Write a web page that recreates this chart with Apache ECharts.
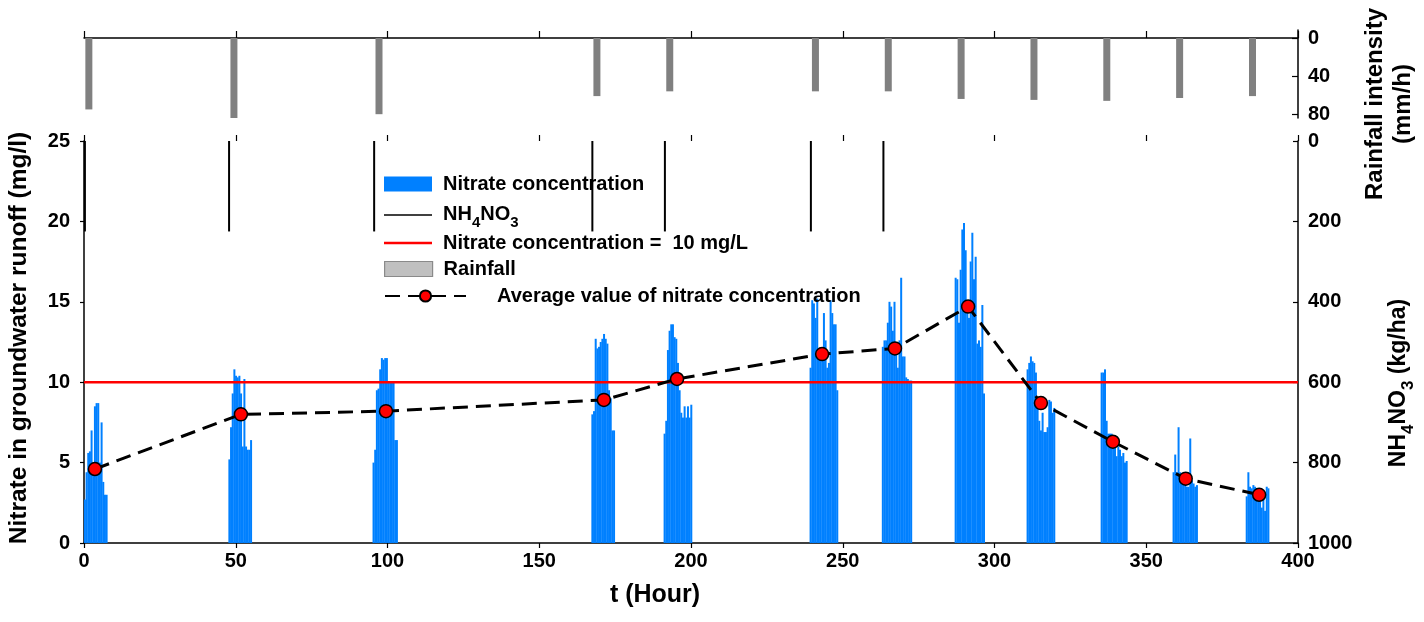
<!DOCTYPE html>
<html><head><meta charset="utf-8">
<script src="https://cdn.jsdelivr.net/npm/echarts@6/dist/echarts.min.js"></script>
<style>html,body{margin:0;padding:0;background:#fff}#c{width:1424px;height:622px}</style>
</head><body><div id="c"></div>
<script>
const FONT = '"Liberation Sans", Arial, sans-serif';

// ---- data ----
const rainTimes = [1.6, 49.4, 97.2, 169, 193, 241, 265, 289, 313, 337, 361, 385];
const rainIntensity = [75, 84, 80, 61, 56, 56, 56, 64, 65, 66, 63, 61];

const nh4no3Times = [0.3, 47.8, 95.6, 167.5, 191.4, 239.5, 263.4];
const nh4no3Amounts = [225, 225, 225, 225, 225, 225, 225];

const clusterStarts = [0.3, 47.9, 95.4, 167.5, 191.3, 239.4, 263.2, 287.2, 310.9, 335.3, 359.0, 383.1];
const clusterStep = 0.55;
const cluster1 = [2.7, 4.4, 5.6, 5.7, 7.0, 4.5, 8.5, 8.7, 8.7, 5.0, 7.5, 3.8, 3.0, 3.0];
const cluster2 = [5.2, 7.2, 9.3, 10.8, 10.4, 10.3, 10.4, 9.3, 6.0, 10.2, 6.0, 5.8, 5.8, 6.4];
const cluster3 = [5.0, 5.8, 9.5, 9.6, 10.8, 11.5, 11.4, 11.5, 11.5, 10.0, 10.0, 10.0, 10.0, 6.4, 6.4];
const cluster4 = [8.0, 8.2, 12.7, 12.1, 12.2, 12.5, 12.7, 13.0, 12.7, 12.4, 9.5, 9.0, 7.0, 7.0];
const cluster5 = [6.8, 7.6, 12.0, 13.2, 13.6, 13.6, 12.8, 12.7, 11.2, 9.5, 8.1, 7.8, 8.5, 7.8, 8.5, 7.8, 8.6];
const cluster6 = [10.9, 15.1, 14.9, 14.0, 15.2, 11.8, 11.4, 11.6, 14.3, 12.6, 10.9, 11.2, 15.1, 14.3, 13.6, 13.6, 9.5];
const cluster7 = [12.2, 12.6, 12.6, 13.7, 15.0, 14.7, 13.2, 15.0, 12.2, 10.9, 12.6, 16.5, 11.6, 11.6, 10.3, 10.2, 10.1, 10.1];
const cluster8 = [16.5, 16.4, 13.7, 17.0, 19.5, 19.9, 18.2, 14.7, 14.0, 17.5, 19.3, 16.4, 17.8, 12.4, 12.6, 12.2, 14.8, 9.3];
const cluster9 = [10.8, 11.2, 11.6, 11.3, 11.2, 10.6, 8.9, 7.6, 7.0, 8.1, 6.9, 6.9, 7.2, 8.9, 8.8, 8.1, 8.4];
const cluster10 = [10.6, 10.6, 10.8, 7.6, 6.8, 6.8, 6.8, 6.4, 6.3, 5.4, 6.0, 5.8, 5.4, 5.6, 5.0, 5.1];
const cluster11 = [4.4, 5.5, 4.4, 7.2, 4.4, 4.0, 3.9, 3.7, 3.5, 3.5, 6.5, 3.9, 3.7, 3.5, 3.6];
const cluster12 = [2.9, 4.4, 3.5, 3.4, 3.6, 3.5, 3.4, 3.2, 3.2, 2.2, 2.7, 2.0, 3.5, 3.4];
const clusters = [cluster1, cluster2, cluster3, cluster4, cluster5, cluster6, cluster7, cluster8, cluster9, cluster10, cluster11, cluster12];

const avgTimes = [3.6, 51.7, 99.5, 171.3, 195.4, 243.2, 267.2, 291.3, 315.3, 339.0, 363.0, 387.2];
const avgValues = [4.6, 8.0, 8.2, 8.9, 10.2, 11.75, 12.1, 14.7, 8.7, 6.3, 4.0, 3.0];

const thresholdValue = 10;
const tMin = 0, tMax = 400;
const rainTickValues = [0, 40, 80];

// ---- build tables ----
const nitrateData = [];
clusters.forEach((vals, ci) => {
  vals.forEach((v, i) => nitrateData.push([+(clusterStarts[ci] + i * clusterStep).toFixed(3), v]));
});
const rainData = rainTimes.map((t, i) => [t, rainIntensity[i]]);
const nh4Data = nh4no3Times.map((t, i) => [t, nh4no3Amounts[i]]);
const avgData = avgTimes.map((t, i) => [t, avgValues[i]]);
const thresholdData = [[tMin, thresholdValue], [tMax, thresholdValue]];

const bold = { fontFamily: FONT, fontWeight: 'bold', color: '#000' };
const axisLine = { show: true, onZero: false, lineStyle: { color: '#000', width: 1.5 } };

const chart = echarts.init(document.getElementById('c'), null, { renderer: 'canvas' });

function legendAt(name, left, top, extra) {
  return Object.assign({
    data: [name], left: left, top: top, orient: 'horizontal', padding: 0,
    selectedMode: false, itemWidth: 48, itemHeight: 15,
    textStyle: Object.assign({ fontSize: 20, lineHeight: 22, padding: [0, 0, 0, 6] }, bold)
  }, extra || {});
}

chart.setOption({
  animation: false,
  backgroundColor: '#fff',
  grid: [
    { left: 84, width: 1214, top: 30, height: 88, containLabel: false, outerBoundsMode: 'none' },
    { left: 84, width: 1214, top: 141, height: 402, containLabel: false, outerBoundsMode: 'none' }
  ],
  xAxis: [
    { gridIndex: 0, type: 'value', min: tMin, max: tMax, interval: 50, position: 'top',
      axisLine: { show: true, onZero: true, lineStyle: { color: '#000', width: 1.5 } },
      axisTick: { show: true, length: 7, lineStyle: { color: '#000', width: 1.2 } },
      axisLabel: { show: false }, splitLine: { show: false } },
    { gridIndex: 1, type: 'value', min: tMin, max: tMax, interval: 50, position: 'bottom',
      axisLine: axisLine,
      axisTick: { show: true, length: 5, lineStyle: { color: '#000', width: 1.2 } },
      axisLabel: Object.assign({ fontSize: 20, margin: 8 }, bold),
      splitLine: { show: false },
      name: 't (Hour)', nameLocation: 'middle', nameGap: 40,
      nameTextStyle: Object.assign({ fontSize: 25, padding: [0, 72, 0, 0] }, bold) },
    { gridIndex: 1, type: 'value', min: tMin, max: tMax, interval: 50, position: 'top',
      axisLine: { show: false, onZero: false },
      axisTick: { show: true, length: 6, lineStyle: { color: '#000', width: 1.2 } },
      axisLabel: { show: false }, splitLine: { show: false } }
  ],
  yAxis: [
    { gridIndex: 0, type: 'value', position: 'right', inverse: true, min: -8.42, max: 84,
      axisLine: axisLine,
      axisTick: { show: true, inside: true, length: 6, customValues: rainTickValues, lineStyle: { color: '#000', width: 1.2 } },
      axisLabel: Object.assign({ fontSize: 20, margin: 10, customValues: rainTickValues }, bold),
      splitLine: { show: false } },
    { gridIndex: 1, type: 'value', position: 'left', min: 0, max: 25, interval: 5,
      axisLine: axisLine,
      axisTick: { show: true, length: 4, lineStyle: { color: '#000', width: 1.2 } },
      axisLabel: Object.assign({ fontSize: 20, margin: 14 }, bold),
      splitLine: { show: false },
      name: 'Nitrate in groundwater runoff (mg/l)', nameLocation: 'middle', nameGap: 52, nameRotate: 90,
      nameTextStyle: Object.assign({ fontSize: 24.5, padding: [0, 0, 0, 8] }, bold) },
    { gridIndex: 1, type: 'value', position: 'right', inverse: true, min: 0, max: 1000, interval: 200,
      axisLine: axisLine,
      axisTick: { show: true, inside: true, length: 5, lineStyle: { color: '#000', width: 1.2 } },
      axisLabel: Object.assign({ fontSize: 20, margin: 10, formatter: (v) => String(v) }, bold),
      splitLine: { show: false } }
  ],
  legend: [
    legendAt('Nitrate concentration', 384, 173, { icon: 'rect' }),
    legendAt('NH4NO3', 384, 204, { icon: 'rect', itemHeight: 1.3,
      formatter: () => '{a|NH}{s|4}{a|NO}{s|3}',
      textStyle: Object.assign({ fontSize: 20, padding: [0, 0, 0, 6],
        rich: {
          a: Object.assign({ fontSize: 20, lineHeight: 22, verticalAlign: 'top' }, bold),
          s: Object.assign({ fontSize: 15, lineHeight: 15, verticalAlign: 'top', padding: [11, 0, 0, 0] }, bold)
        } }, bold) }),
    legendAt('Nitrate concentration =  10 mg/L', 384, 232, { icon: 'rect', itemHeight: 2.5 }),
    legendAt('Rainfall', 384, 258, { icon: 'rect',
      data: [{ name: 'Rainfall', itemStyle: { color: '#c0c0c0', borderColor: '#8a8a8a', borderWidth: 1.2 } }] }),
    legendAt('Average value of nitrate concentration', 384, 285, { itemWidth: 81, itemHeight: 14,
      textStyle: Object.assign({ fontSize: 20, lineHeight: 22, padding: [0, 0, 0, 26] }, bold) })
  ],
  graphic: [
    { type: 'text', x: 1389, y: 104, rotation: Math.PI / 2,
      style: { text: 'Rainfall intensity\n(mm/h)', fill: '#000', font: 'bold 24px ' + FONT,
        align: 'center', verticalAlign: 'middle', lineHeight: 28 } },
    { type: 'text', x: 1400, y: 383, rotation: Math.PI / 2,
      style: { text: '{a|NH}{s|4}{a|NO}{s|3}{a| (kg/ha)}', fill: '#000',
        align: 'center', verticalAlign: 'middle',
        rich: {
          a: { fontFamily: FONT, fontWeight: 'bold', fontSize: 23, lineHeight: 25, verticalAlign: 'top', fill: '#000' },
          s: { fontFamily: FONT, fontWeight: 'bold', fontSize: 17, lineHeight: 17, verticalAlign: 'top', padding: [12, 0, 0, 0], fill: '#000' }
        } } }
  ],
  series: [
    { name: 'Rainfall', type: 'bar', xAxisIndex: 0, yAxisIndex: 0, data: rainData,
      barWidth: 7, clip: false, itemStyle: { color: '#808080' } },
    { name: 'Nitrate concentration', type: 'bar', xAxisIndex: 1, yAxisIndex: 1, data: nitrateData,
      barWidth: 2, itemStyle: { color: '#0080ff' }, z: 2 },
    { name: 'NH4NO3', type: 'bar', xAxisIndex: 2, yAxisIndex: 2, data: nh4Data,
      barWidth: 2, itemStyle: { color: '#000' }, z: 2 },
    { name: 'Nitrate concentration =  10 mg/L', type: 'line', xAxisIndex: 1, yAxisIndex: 1, data: thresholdData,
      symbol: 'none', lineStyle: { color: '#ff0000', width: 2.5 }, itemStyle: { color: '#ff0000' }, z: 3 },
    { name: 'Average value of nitrate concentration', type: 'line', xAxisIndex: 1, yAxisIndex: 1, data: avgData,
      symbol: 'circle', symbolSize: 13,
      lineStyle: { color: '#000', width: 3, type: [15, 8] },
      itemStyle: { color: '#ff0000', borderColor: '#000', borderWidth: 1.5 }, z: 5 }
  ]
});
</script></body></html>
